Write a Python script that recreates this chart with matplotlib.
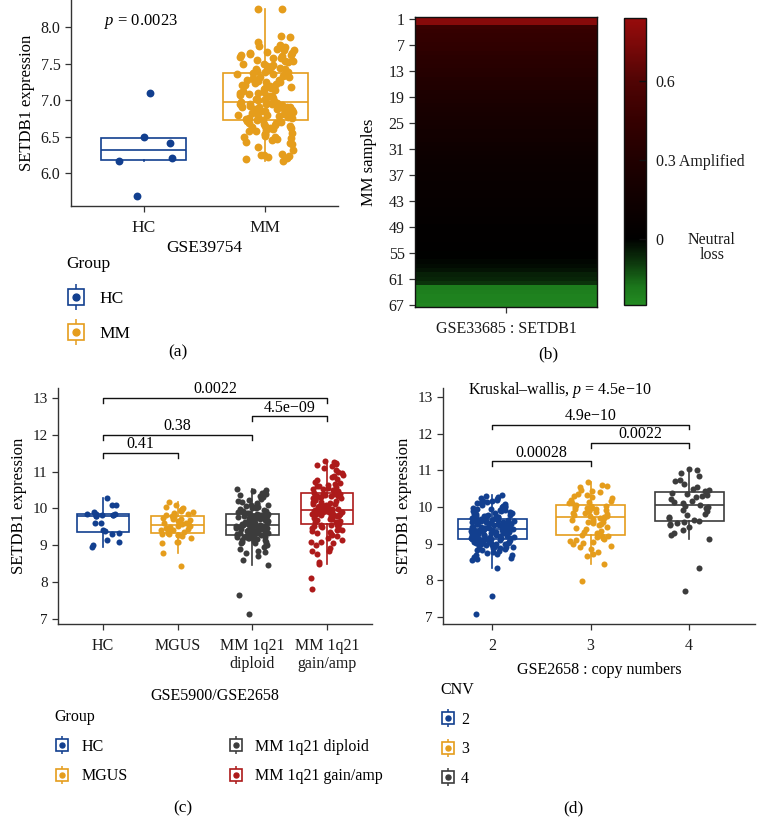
import numpy as np
import matplotlib
matplotlib.use('Agg')
import matplotlib.pyplot as plt
from matplotlib.colors import LinearSegmentedColormap, Normalize
from matplotlib.lines import Line2D
from matplotlib.legend_handler import HandlerTuple

plt.rcParams['font.family'] = 'Liberation Serif'
plt.rcParams['mathtext.fontset'] = 'custom'
plt.rcParams['mathtext.rm'] = 'Liberation Serif'
plt.rcParams['mathtext.it'] = 'Liberation Serif:italic'

BLUE = '#123f8f'
ORANGE = '#e59d1c'
GRAY = '#3c3c3c'
RED = '#ad1a1a'
AXIS = '#333333'

# ---- panel (a): GSE39754 ----
a_groups = ['HC', 'MM']
a_hc = [6.41, 6.50, 6.21, 6.16, 7.10, 5.68]
a_mm = [6.16, 6.19, 6.20, 6.22, 6.23, 6.24, 6.25, 6.26, 6.31, 6.36,
        6.40, 6.41, 6.43, 6.45, 6.46, 6.48, 6.49, 6.50, 6.51, 6.53,
        6.54, 6.55, 6.57, 6.58, 6.59, 6.60, 6.61, 6.62, 6.63, 6.64,
        6.65, 6.66, 6.67, 6.68, 6.69, 6.70, 6.71,
        6.72, 6.73, 6.74, 6.75, 6.76, 6.77, 6.77, 6.78, 6.79, 6.80,
        6.80, 6.81, 6.82, 6.83, 6.83, 6.84, 6.85, 6.85, 6.86, 6.87,
        6.88, 6.88, 6.89, 6.90, 6.90, 6.91, 6.91, 6.92, 6.93, 6.93,
        6.94, 6.94, 6.95, 6.95, 6.96, 6.96, 6.87,
        6.97, 6.98, 7.00, 7.01, 7.02, 7.03, 7.05, 7.06, 7.07, 7.08,
        7.09, 7.10, 7.11, 7.12, 7.14, 7.15, 7.16, 7.17, 7.18, 7.19,
        7.20, 7.21, 7.22, 7.23, 7.24, 7.25, 7.26, 7.27, 7.28, 7.29,
        7.30, 7.31, 7.32, 7.33, 7.34, 7.35, 7.36,
        7.37, 7.38, 7.39, 7.40, 7.41, 7.42, 7.43, 7.44, 7.45, 7.46,
        7.48, 7.49, 7.50, 7.52, 7.53, 7.54, 7.55, 7.57, 7.58, 7.59,
        7.60, 7.61, 7.62, 7.63, 7.64, 7.65, 7.66, 7.68, 7.69, 7.70,
        7.72, 7.74, 7.76, 7.80, 7.86, 7.88, 8.24, 8.25]

# ---- panel (b): GSE33685 copy number, 67 MM samples ----
b_cnv = [0.80, 0.78, 0.47, 0.45, 0.44, 0.43, 0.42, 0.41,
         0.39, 0.38, 0.37, 0.36, 0.35, 0.34,
         0.32, 0.31, 0.30, 0.28, 0.27, 0.26,
         0.24, 0.23, 0.22, 0.21, 0.20, 0.19, 0.18, 0.17, 0.16, 0.15,
         0.14, 0.13, 0.12, 0.11, 0.10, 0.10, 0.09, 0.09, 0.08, 0.08,
         0.07, 0.07, 0.06, 0.06, 0.05, 0.05, 0.04, 0.04, 0.03, 0.03,
         0.02, 0.02, 0.01, 0.01, 0.00, 0.00,
         -0.01, -0.02, -0.03, -0.05, -0.06, -0.08,
         -0.20, -0.21, -0.22, -0.22, -0.23]
b_ticks = [1, 7, 13, 19, 25, 31, 37, 43, 49, 55, 61, 67]

# ---- panel (c): GSE5900/GSE2658 ----
c_groups = ['HC', 'MGUS', 'MM 1q21\ndiploid', 'MM 1q21\ngain/amp']
c_legend = ['HC', 'MGUS', 'MM 1q21 diploid', 'MM 1q21 gain/amp']
c_hc = [10.27, 10.09, 10.09, 9.91, 9.86, 9.85, 9.84, 9.83, 9.82, 9.81, 9.79,
        9.78, 9.61, 9.61, 9.41, 9.39, 9.34, 9.30, 9.13, 9.09, 9.01, 8.94]
c_mgus = [8.43, 8.80, 9.05, 9.08, 9.10, 9.20, 9.24, 9.27, 9.29, 9.30, 9.31,
          9.33, 9.35, 9.38, 9.40, 9.42, 9.45, 9.47, 9.49, 9.51, 9.53, 9.55,
          9.57, 9.59, 9.61, 9.63, 9.65, 9.68, 9.70, 9.72, 9.75, 9.77, 9.79,
          9.81, 9.84, 9.87, 9.90, 9.93, 9.95, 9.97, 10.00, 10.05, 10.08, 10.18]
c_dip = [7.13, 7.65, 8.45, 8.60, 8.72, 8.78, 8.82, 8.85, 8.90, 8.95,
         9.00, 9.02, 9.05, 9.07, 9.09, 9.10, 9.12, 9.14, 9.15, 9.17,
         9.18, 9.19, 9.20, 9.21, 9.22, 9.23, 9.24, 9.25, 9.26, 9.27,
         9.29, 9.30, 9.31, 9.32, 9.33, 9.34, 9.35, 9.36, 9.37, 9.38,
         9.39, 9.40, 9.41, 9.42, 9.43, 9.44, 9.45, 9.46, 9.47, 9.48,
         9.48, 9.49, 9.50, 9.51, 9.51, 9.52, 9.53, 9.53, 9.54, 9.54,
         9.56, 9.57, 9.58, 9.59, 9.60, 9.61, 9.62, 9.63, 9.64, 9.65,
         9.66, 9.67, 9.68, 9.69, 9.70, 9.71, 9.72, 9.73, 9.74, 9.75,
         9.76, 9.77, 9.78, 9.79, 9.80, 9.81, 9.82, 9.83, 9.84, 9.85,
         9.87, 9.88, 9.90, 9.91, 9.93, 9.94, 9.96, 9.98, 10.00, 10.01,
         10.03, 10.05, 10.07, 10.09, 10.10, 10.12, 10.15, 10.18, 10.20, 10.23,
         10.26, 10.30, 10.33, 10.36, 10.40, 10.43, 10.45, 10.47, 10.50, 10.52]
c_gain = [7.82, 8.10, 8.48, 8.55, 8.75, 8.85, 8.85, 8.92, 9.00, 9.05,
          9.08, 9.10, 9.15, 9.20, 9.25, 9.28, 9.30, 9.33, 9.36, 9.38,
          9.40, 9.42, 9.45, 9.47, 9.50, 9.52, 9.53, 9.54, 9.55, 9.56,
          9.58, 9.60, 9.62, 9.64, 9.66, 9.68, 9.70, 9.72, 9.73, 9.75,
          9.76, 9.78, 9.79, 9.80, 9.81, 9.82, 9.83, 9.84, 9.85, 9.86,
          9.87, 9.88, 9.89, 9.90, 9.91, 9.92, 9.93, 9.93, 9.94, 9.94,
          9.96, 9.97, 9.99, 10.00, 10.02, 10.04, 10.05, 10.07, 10.08, 10.10,
          10.12, 10.13, 10.15, 10.17, 10.18, 10.20, 10.22, 10.23, 10.25, 10.27,
          10.28, 10.30, 10.31, 10.33, 10.34, 10.35, 10.36, 10.38, 10.39, 10.40,
          10.42, 10.44, 10.46, 10.48, 10.50, 10.52, 10.54, 10.56, 10.58, 10.60,
          10.62, 10.64, 10.66, 10.70, 10.73, 10.76, 10.80, 10.84, 10.88, 10.92,
          10.96, 11.00, 11.05, 11.10, 11.14, 11.18, 11.20, 11.22, 11.26, 11.28]
c_pvals = [(1, 2, 11.5, '0.41'), (1, 3, 12.0, '0.38'),
           (3, 4, 12.5, '4.5e\u221209'), (1, 4, 13.0, '0.0022')]

# ---- panel (d): GSE2658 copy numbers ----
d_groups = [2, 3, 4]
d_cn2 = [7.07, 7.57, 8.33, 8.55, 8.58, 8.62, 8.65, 8.68, 8.70, 8.72,
         8.75, 8.78, 8.80, 8.82, 8.84, 8.86, 8.88, 8.89, 8.90, 8.91,
         8.92, 8.94, 8.95, 8.96, 8.97, 8.98, 8.99, 9.00, 9.01, 9.02,
         9.03, 9.04, 9.05, 9.06, 9.07, 9.08, 9.09, 9.10, 9.11, 9.11,
         9.12, 9.13, 9.13, 9.14, 9.15, 9.16, 9.16, 9.17, 9.18, 9.19,
         9.19, 9.20, 9.21, 9.22, 9.22, 9.23, 9.24, 9.25, 9.25, 9.26,
         9.27, 9.28, 9.28, 9.29, 9.30, 9.31, 9.31, 9.32, 9.33, 9.33,
         9.34, 9.35, 9.35, 9.36, 9.36, 9.37, 9.37, 9.38, 9.38, 9.39,
         9.40, 9.41, 9.41, 9.42, 9.43, 9.44, 9.44, 9.45, 9.46, 9.47,
         9.47, 9.48, 9.49, 9.50, 9.50, 9.51, 9.52, 9.53, 9.53, 9.54,
         9.55, 9.56, 9.56, 9.57, 9.58, 9.59, 9.59, 9.60, 9.61, 9.62,
         9.62, 9.63, 9.64, 9.64, 9.65, 9.65, 9.66, 9.66, 9.67, 9.67,
         9.69, 9.70, 9.71, 9.72, 9.73, 9.74, 9.75, 9.76, 9.77, 9.78,
         9.79, 9.80, 9.82, 9.83, 9.85, 9.86, 9.88, 9.89, 9.91, 9.92,
         9.94, 9.95, 9.97, 9.99, 10.00, 10.02, 10.04, 10.06, 10.08, 10.10,
         10.12, 10.14, 10.16, 10.18, 10.20, 10.22, 10.25, 10.27, 10.30, 10.33]
d_cn3 = [7.98, 8.44, 8.66, 8.72, 8.78, 8.85, 8.90, 8.95, 9.00, 9.03, 9.06, 9.08,
         9.10, 9.13, 9.16, 9.18, 9.20, 9.22,
         9.25, 9.28, 9.32, 9.36, 9.40, 9.44, 9.47, 9.50, 9.53, 9.56, 9.58, 9.60,
         9.62, 9.65, 9.67, 9.69, 9.71, 9.73,
         9.75, 9.77, 9.79, 9.81, 9.83, 9.85, 9.87, 9.89, 9.90, 9.92, 9.94, 9.95,
         9.97, 9.98, 10.00, 10.01, 10.03, 10.04,
         10.07, 10.10, 10.12, 10.15, 10.18, 10.20, 10.24, 10.27, 10.30, 10.33,
         10.36, 10.40, 10.45, 10.48, 10.55, 10.58, 10.60, 10.68]
d_cn4 = [7.72, 8.35, 9.14, 9.25, 9.30, 9.38, 9.45, 9.50, 9.55, 9.57, 9.59,
         9.62, 9.66, 9.70, 9.74, 9.78, 9.82, 9.88, 9.93, 9.97, 10.01, 10.04,
         10.06, 10.10, 10.14, 10.18, 10.22, 10.27, 10.31, 10.34, 10.36, 10.38, 10.41,
         10.43, 10.46, 10.50, 10.55, 10.62, 10.70, 10.75, 10.85, 10.92, 11.02, 11.05]
d_pvals = [(2, 3, 11.25, '0.00028'), (3, 4, 11.75, '0.0022'),
           (2, 4, 12.25, '4.9e\u221210')]

W, H = 758, 817
fig = plt.figure(figsize=(W / 100, H / 100), dpi=100)


def add_ax(x0, y0, x1, y1):
    return fig.add_axes([x0 / W, 1 - y1 / H, (x1 - x0) / W, (y1 - y0) / H])


def style(ax, xsize=11.5, ysize=11):
    for s in ['top', 'right']:
        ax.spines[s].set_visible(False)
    for s in ['left', 'bottom']:
        ax.spines[s].set_color(AXIS)
        ax.spines[s].set_linewidth(1.0)
    ax.tick_params(colors=AXIS, labelcolor='#1a1a1a', length=4, width=0.9)
    ax.tick_params(axis='x', labelsize=xsize, pad=6)
    ax.tick_params(axis='y', labelsize=ysize)


def box_jitter(ax, groups, positions, colors, size, seed, jit=0.22):
    rng = np.random.default_rng(seed)
    for vals, pos, c in zip(groups, positions, colors):
        ax.boxplot([vals], positions=[pos], widths=0.7, showfliers=False,
                   showcaps=False, patch_artist=True, manage_ticks=False,
                   boxprops=dict(facecolor='white', edgecolor=c, linewidth=1.2),
                   medianprops=dict(color=c, linewidth=1.2),
                   whiskerprops=dict(color=c, linewidth=1.2), zorder=2)
        x = pos + rng.uniform(-jit, jit, len(vals))
        ax.scatter(x, vals, s=size, color=c, linewidths=0, zorder=3)


def bracket(ax, x1, x2, y, label, drop=0.13):
    ax.plot([x1, x1, x2, x2], [y - drop, y, y, y - drop], color='#111111', lw=1.0)
    ax.text((x1 + x2) / 2, y + 0.02, label, ha='center', va='bottom', fontsize=11.5)


def key(c, big=False):
    ms = 11 if big else 8
    return (Line2D([], [], marker='|', ms=ms * 1.7, color=c, ls='none', mew=1.1),
            Line2D([], [], marker='s', ms=ms, mfc='white', mec=c, ls='none', mew=1.2),
            Line2D([], [], marker='o', ms=ms * 0.45, color=c, ls='none'))


# ---------------- (a) ----------------
ax = add_ax(71, 0, 338, 206)
style(ax, xsize=12.5, ysize=11.5)
box_jitter(ax, [a_hc, a_mm], [1, 2], [BLUE, ORANGE], 32, seed=4, jit=0.24)
ax.set_xlim(0.4, 2.6)
ax.set_ylim(5.548, 8.37)
ax.set_xticks([1, 2])
ax.set_xticklabels(a_groups)
ax.set_yticks([6.0, 6.5, 7.0, 7.5, 8.0])
ax.set_yticklabels(['6.0', '6.5', '7.0', '7.5', '8.0'])
ax.set_ylabel('SETDB1 expression', fontsize=12)
ax.set_xlabel('GSE39754', fontsize=12.5, labelpad=3)
ax.text(0.98, 8.07, '$p$ = 0.0023', ha='center', va='center', fontsize=12)
fig.legend([key(BLUE, True), key(ORANGE, True)], a_groups, title='Group',
           handler_map={tuple: HandlerTuple(ndivide=1)}, loc='upper left',
           bbox_to_anchor=(66 / W, 1 - 256 / H), frameon=False, alignment='left',
           fontsize=12.5, title_fontsize=12.5, labelspacing=1.1, handlelength=1.2,
           handletextpad=0.7, borderpad=0, borderaxespad=0)
fig.text(178 / W, 1 - 352 / H, '(a)', ha='center', va='center', fontsize=12.5)

# ---------------- (b) ----------------
lo, hi = -0.25, 0.84
nodes = [(-0.25, '#238b22'), (-0.18, '#1b761b'), (-0.08, '#0b300b'), (0.0, '#000000'),
         (0.3, '#200000'), (0.45, '#350000'), (0.6, '#500404'), (0.84, '#980c0c')]
cmap = LinearSegmentedColormap.from_list(
    'cnv', [((v - lo) / (hi - lo), c) for v, c in nodes])
norm = Normalize(lo, hi)
ax = add_ax(415, 17, 597, 307)
im = ax.imshow(np.array(b_cnv)[:, None], aspect='auto', cmap=cmap, norm=norm,
               interpolation='nearest')
ax.set_yticks([t - 1 for t in b_ticks])
ax.set_yticklabels([str(t) for t in b_ticks])
ax.set_xticks([0])
ax.set_xticklabels(['GSE33685 : SETDB1'])
ax.tick_params(colors=AXIS, labelcolor='#1a1a1a', length=4, width=0.9, labelsize=11.5)
ax.tick_params(axis='x', pad=6)
for s in ax.spines.values():
    s.set_color('#111111')
    s.set_linewidth(1.0)
ax.set_ylabel('MM samples', fontsize=12, labelpad=8)
cax = add_ax(624, 18, 646, 305)
cb = fig.colorbar(im, cax=cax)
cb.outline.set_edgecolor('#111111')
cb.outline.set_linewidth(1.0)
cb.set_ticks([0, 0.3, 0.6])
cb.set_ticklabels(['0', '0.3 Amplified', '0.6'])
cax.tick_params(direction='in', length=5, width=1, color='#111111', labelsize=11.5,
                pad=7, labelcolor='#1a1a1a')
cax.text(4.0, norm(0) - 0.03, 'Neutral\nloss', transform=cax.transAxes, ha='center',
         va='center', fontsize=11.5, linespacing=0.95, color='#1a1a1a')
fig.text(548 / W, 1 - 354 / H, '(b)', ha='center', va='center', fontsize=12.5)

# ---------------- (c) ----------------
ax = add_ax(58, 388, 372, 624)
style(ax)
box_jitter(ax, [c_hc, c_mgus, c_dip, c_gain], [1, 2, 3, 4],
           [BLUE, ORANGE, GRAY, RED], 19, seed=7)
for x1, x2, y, lab in c_pvals:
    bracket(ax, x1, x2, y, lab)
ax.set_xlim(0.4, 4.6)
ax.set_ylim(6.86, 13.27)
ax.set_xticks([1, 2, 3, 4])
ax.set_xticklabels(c_groups, linespacing=1.15)
ax.set_yticks(range(7, 14))
ax.set_ylabel('SETDB1 expression', fontsize=12)
ax.set_xlabel('GSE5900/GSE2658', fontsize=11.5, labelpad=12)
fig.legend([key(c) for c in [BLUE, ORANGE, GRAY, RED]], c_legend, title='Group',
           handler_map={tuple: HandlerTuple(ndivide=1)}, loc='upper left', ncol=2,
           bbox_to_anchor=(54 / W, 1 - 709 / H), frameon=False, alignment='left',
           fontsize=11.5, title_fontsize=11.5, labelspacing=0.85, handlelength=1.0,
           handletextpad=0.7, columnspacing=6.3, borderpad=0, borderaxespad=0)
fig.text(183 / W, 1 - 808 / H, '(c)', ha='center', va='center', fontsize=12.5)

# ---------------- (d) ----------------
ax = add_ax(443, 388, 755, 624)
style(ax)
box_jitter(ax, [d_cn2, d_cn3, d_cn4], d_groups, [BLUE, ORANGE, GRAY], 19, seed=11)
for x1, x2, y, lab in d_pvals:
    bracket(ax, x1, x2, y, lab)
ax.set_xlim(1.5, 4.67)
ax.set_ylim(6.81, 13.25)
ax.set_xticks(d_groups)
ax.set_yticks(range(7, 14))
ax.set_ylabel('SETDB1 expression', fontsize=12)
ax.set_xlabel('GSE2658 : copy numbers', fontsize=11.5, labelpad=6)
ax.text(1.75, 13.19, 'Kruskal\u2013wallis, $p$ = 4.5e\u221210', ha='left', va='center',
        fontsize=11.5)
fig.legend([key(c) for c in [BLUE, ORANGE, GRAY]], [str(g) for g in d_groups],
           title='CNV', handler_map={tuple: HandlerTuple(ndivide=1)}, loc='upper left',
           bbox_to_anchor=(440 / W, 1 - 682 / H), frameon=False, alignment='left',
           fontsize=11.5, title_fontsize=11.5, labelspacing=0.85, handlelength=1.0,
           handletextpad=0.3, borderpad=0, borderaxespad=0)
fig.text(573 / W, 1 - 808 / H, '(d)', ha='center', va='center', fontsize=12.5)

fig.savefig('out.png', dpi=100)
